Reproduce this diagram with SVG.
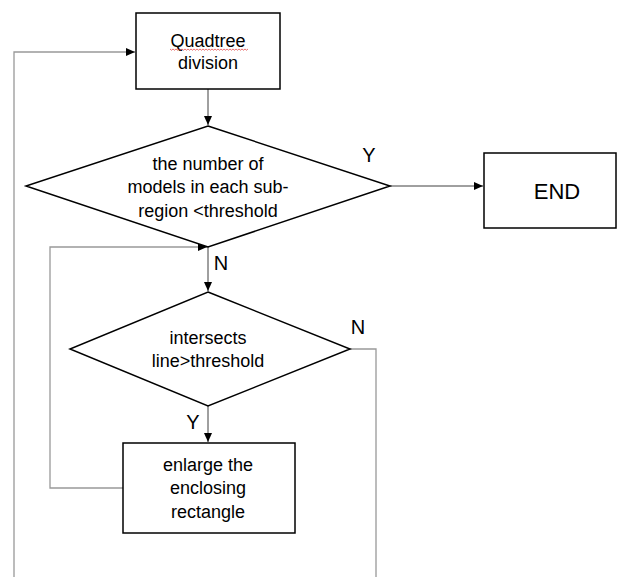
<svg xmlns="http://www.w3.org/2000/svg" width="617" height="577" viewBox="0 0 617 577">
<style>
.box{fill:#fff;stroke:#000;stroke-width:1.5}
.conn{fill:none;stroke:#404040;stroke-width:1}
.loop{fill:none;stroke:#999;stroke-width:1.3}
.t{font-family:"Liberation Sans",Arial,sans-serif;font-size:18px;fill:#000;text-anchor:middle;dominant-baseline:central}
.lbl{font-family:"Liberation Sans",Arial,sans-serif;font-size:20px;fill:#000;text-anchor:middle;dominant-baseline:central}
</style>
<defs>
<marker id="ah" markerWidth="10" markerHeight="10" refX="9" refY="5" orient="auto" markerUnits="userSpaceOnUse">
<path d="M0,1 L9,5 L0,9 Z" fill="#000"/>
</marker>
</defs>
<rect width="617" height="577" fill="#fff"/>
<g id="connectors">
<path class="loop" d="M14,577 V52 H135" marker-end="url(#ah)"/>
<path class="conn" d="M208,89 V125" marker-end="url(#ah)"/>
<path class="conn" d="M390,186 H483" marker-end="url(#ah)"/>
<path class="conn" d="M208,247 V291" marker-end="url(#ah)"/>
<path class="loop" d="M123,488 H50 V247 H207" marker-end="url(#ah)"/>
<path class="conn" d="M208,406 V442" marker-end="url(#ah)"/>
<path class="loop" d="M350,349 H376 V577"/>
<text class="lbl" x="369" y="155">Y</text>
<text class="lbl" x="221" y="263">N</text>
<text class="lbl" x="358" y="327">N</text>
<text class="lbl" x="193" y="422">Y</text>
</g>
<g id="quadtree">
<rect class="box" x="136" y="13" width="144" height="76"/>
<text class="t" x="208" y="41">Quadtree</text>
<path d="M170,49 l1.5,1.2 l1.5,-1.2 l1.5,1.2 l1.5,-1.2 l1.5,1.2 l1.5,-1.2 l1.5,1.2 l1.5,-1.2 l1.5,1.2 l1.5,-1.2 l1.5,1.2 l1.5,-1.2 l1.5,1.2 l1.5,-1.2 l1.5,1.2 l1.5,-1.2 l1.5,1.2 l1.5,-1.2 l1.5,1.2 l1.5,-1.2 l1.5,1.2 l1.5,-1.2 l1.5,1.2 l1.5,-1.2 l1.5,1.2 l1.5,-1.2 l1.5,1.2 l1.5,-1.2 l1.5,1.2 l1.5,-1.2 l1.5,1.2 l1.5,-1.2 l1.5,1.2 l1.5,-1.2 l1.5,1.2 l1.5,-1.2 l1.5,1.2 l1.5,-1.2 l1.5,1.2 l1.5,-1.2 l1.5,1.2 l1.5,-1.2 l1.5,1.2 l1.5,-1.2 l1.5,1.2 l1.5,-1.2 l1.5,1.2 l1.5,-1.2 l1.5,1.2 l1.5,-1.2 l1.5,1.2 l1.5,-1.2" fill="none" stroke="#e03030" stroke-width="0.7"/>
<text class="t" x="208" y="63">division</text>
</g>
<g id="decision1">
<polygon class="box" points="208,126 390,186 208,247 26,186"/>
<text class="t" x="208" y="164">the number of</text>
<text class="t" x="208" y="187">models in each sub-</text>
<text class="t" x="208" y="211">region &lt;threshold</text>
</g>
<g id="end">
<rect class="box" x="484" y="153" width="132" height="75"/>
<text class="t" x="557" y="191" style="font-size:22px">END</text>
</g>
<g id="decision2">
<polygon class="box" points="208,292 350,349 208,406 70,349"/>
<text class="t" x="208" y="338">intersects</text>
<text class="t" x="208" y="361">line&gt;threshold</text>
</g>
<g id="enlarge">
<rect class="box" x="123" y="443" width="172" height="90"/>
<text class="t" x="208" y="465">enlarge the</text>
<text class="t" x="208" y="488">enclosing</text>
<text class="t" x="208" y="512">rectangle</text>
</g>
</svg>
